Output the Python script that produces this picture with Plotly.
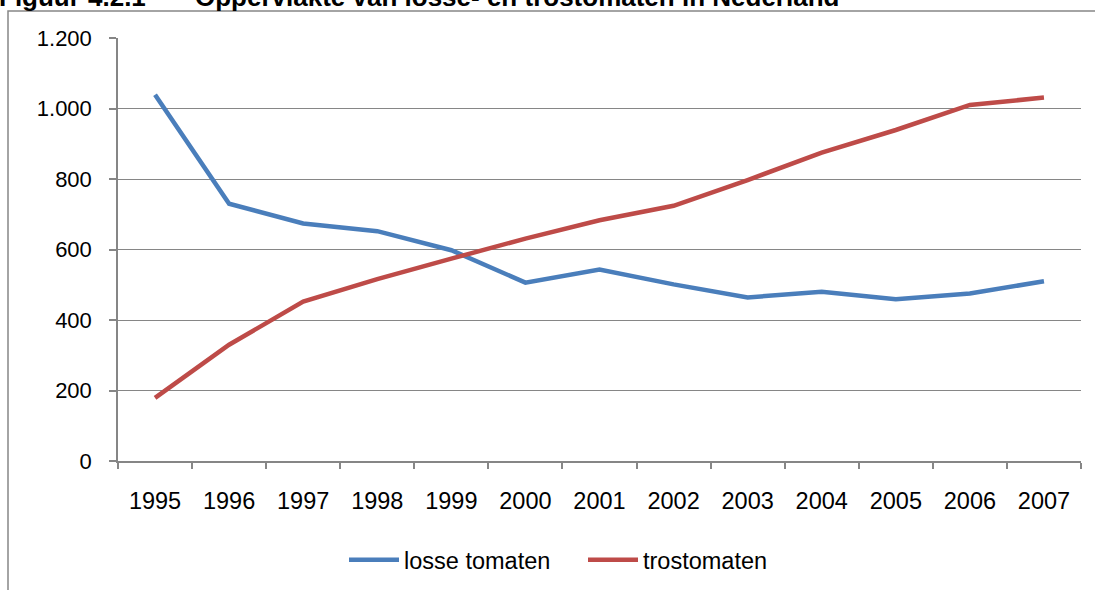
import plotly.graph_objects as go

years = ["1995", "1996", "1997", "1998", "1999", "2000", "2001", "2002", "2003", "2004", "2005", "2006", "2007"]
losse_tomaten = [1039, 730, 674, 652, 598, 506, 543, 501, 464, 480, 459, 475, 510]
trostomaten = [179, 330, 452, 516, 574, 631, 683, 724, 797, 875, 939, 1010, 1031]
y_ticks = [0, 200, 400, 600, 800, 1000, 1200]

FONT = "Arial, Liberation Sans, sans-serif"
GRAY = "#868686"

# page offset of the figure (body margin removed via post_script)
OFF = 0
W, H = 1095, 590
# desired plot area on the page
PL, PR, PT, PB = 118, 1081, 38, 461
ml, mt = PL - OFF, PT - OFF
mr = W - (PR - OFF)
mb = H - (PB - OFF)
pw, ph = PR - PL, PB - PT

def px(x):
    return (x - PL) / pw

def py(y):
    return (PB - y) / ph

fig = go.Figure()
fig.add_trace(go.Scatter(x=years, y=losse_tomaten, mode="lines", name="losse tomaten",
                         line=dict(color="#4A7EBB", width=4.5)))
fig.add_trace(go.Scatter(x=years, y=trostomaten, mode="lines", name="trostomaten",
                         line=dict(color="#BE4B48", width=4.5)))

title_font = dict(size=26, family=FONT, color="black")

fig.update_layout(
    width=W, height=H,
    margin=dict(l=ml, r=mr, t=mt, b=mb, pad=0, autoexpand=False),
    paper_bgcolor="white", plot_bgcolor="white",
    separators=",.",
    font=dict(family=FONT, size=23, color="black"),
    showlegend=True,
    legend=dict(orientation="h", x=px(344), xanchor="left", y=py(560), yanchor="middle",
                font=dict(size=23.5), itemwidth=50, tracegroupgap=0,
                entrywidth=174, entrywidthmode="pixels"),
    xaxis=dict(type="category", tickson="boundaries", range=[-0.5, 12.5],
               showline=True, linecolor=GRAY, linewidth=1.5,
               ticks="outside", ticklen=6, tickcolor=GRAY, tickwidth=1.5,
               showgrid=False, ticklabelstandoff=18, tickfont=dict(size=23.5)),
    yaxis=dict(range=[0, 1200], tickvals=y_ticks, tickformat=",d",
               showline=True, linecolor=GRAY, linewidth=1.5,
               ticks="outside", ticklen=7, tickcolor=GRAY, tickwidth=1.5,
               showgrid=True, gridcolor=GRAY, gridwidth=1.2, zeroline=False,
               ticklabelstandoff=13, tickfont=dict(size=22)),
    shapes=[dict(type="rect", xref="paper", yref="paper",
                 x0=px(8), x1=px(1120), y0=py(640), y1=py(11),
                 line=dict(color=GRAY, width=1.5), fillcolor="rgba(0,0,0,0)", layer="below")],
    annotations=[
        dict(text="<b>Figuur</b>", xref="paper", yref="paper", x=px(-3), y=py(14),
             xanchor="left", yanchor="bottom", showarrow=False, font=title_font),
        dict(text="<b>4.2.1</b>", xref="paper", yref="paper", x=px(86), y=py(14),
             xanchor="left", yanchor="bottom", showarrow=False, font=title_font),
        dict(text="<b>Oppervlakte van losse- en trostomaten in Nederland</b>", xref="paper", yref="paper",
             x=px(193), y=py(14), xanchor="left", yanchor="bottom", showarrow=False,
             font=title_font),
    ],
)

fig.write_html("out.html", config={"displayModeBar": False},
               post_script="document.body.style.margin='0';")
